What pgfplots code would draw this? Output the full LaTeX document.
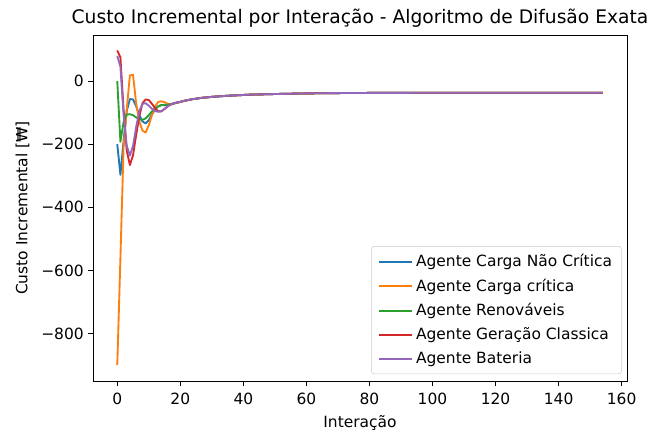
\documentclass[border=0pt]{standalone}
\usepackage{pgfplots}
\pgfplotsset{compat=1.18}
\usepackage{fontspec}
\setmainfont{DejaVu Sans}
\definecolor{c0}{HTML}{1F77B4}
\definecolor{c1}{HTML}{FF7F0E}
\definecolor{c2}{HTML}{2CA02C}
\definecolor{c3}{HTML}{D62728}
\definecolor{c4}{HTML}{9467BD}
\begin{document}
\begin{tikzpicture}[x=0.75pt,y=0.75pt]
\path[use as bounding box] (0,0) rectangle (658,434);
\begin{axis}[
  at={(93pt*0.75,53pt*0.75)}, anchor=south west,
  scale only axis, width=400.5pt, height=259.5pt,
  xmin=-7.7, xmax=161.7, ymin=-950, ymax=146,
  xtick={0,20,...,160},
  ytick={-800,-600,-400,-200,0},
  yticklabels={−800,−600,−400,−200,0},
  /pgf/number format/assume math mode=true,
  tick align=outside, xtick pos=bottom, ytick pos=left,
  major tick length=3.4pt,
  tick style={black, line width=0.6pt},
  axis line style={line width=0.6pt},
  ticklabel style={font=\fontsize{11.6}{13}\selectfont},
  xticklabel style={yshift=-2pt},
  label style={font=\fontsize{11.6}{13}\selectfont},
  title style={font=\fontsize{14}{16}\selectfont, yshift=-4pt},
  title={Custo Incremental por Interação - Algoritmo de Difusão Exata},
  xlabel={Interação}, ylabel={Custo Incremental [₩]},
  xlabel style={yshift=-1pt}, ylabel style={yshift=2pt},
  legend style={at={(0.99,0.02)}, anchor=south east, draw=black!20, rounded corners=2pt,
    font=\fontsize{11.6}{13}\selectfont, row sep=3.6pt, inner xsep=5pt, inner ysep=4pt},
  legend cell align=left,
  legend image code/.code={\draw[#1] (0pt,0pt) -- (25pt,0pt);},
]
\addplot[c0, line width=1.4pt, line join=round] coordinates {(0,-200) (1,-297) (2,-190) (3,-95) (4,-57) (5,-58) (6,-80) (7,-108) (8,-128) (9,-134) (10,-124) (11,-106) (12,-90) (13,-80) (14,-76) (15,-76) (16,-76) (17,-74) (18,-71) (19,-68) (20,-66)
 (21,-63) (22,-61) (23,-59) (24,-57) (25,-56) (26,-54) (28,-52) (30,-50) (32,-48.5) (35,-46.5) (38,-45) (42,-43) (46,-42) (50,-41) (55,-40) (60,-39) (70,-38) (80,-37.5) (100,-37) (154,-37)};
\addlegendentry{Agente Carga Não Crítica}
\addplot[c1, line width=1.4pt, line join=round] coordinates {(0,-900) (1,-560) (2,-210) (3,-90) (4,18) (5,20) (6,-72) (7,-128) (8,-157) (9,-163) (10,-140) (11,-108) (12,-80) (13,-66) (14,-64) (15,-67) (16,-72) (17,-74) (18,-71) (19,-68) (20,-66)
 (21,-63) (22,-61) (23,-59) (24,-57) (25,-56) (26,-54) (28,-52) (30,-50) (32,-48.5) (35,-46.5) (38,-45) (42,-43) (46,-42) (50,-41) (55,-40) (60,-39) (70,-38) (80,-37.5) (100,-37) (154,-37)};
\addlegendentry{Agente Carga crítica}
\addplot[c2, line width=1.4pt, line join=round] coordinates {(0,0) (1,-192) (2,-130) (3,-106) (4,-105) (5,-108) (6,-115) (7,-121) (8,-123) (9,-118) (10,-108) (11,-96) (12,-87) (13,-80) (14,-76) (15,-75) (16,-75) (17,-73) (18,-71) (19,-68) (20,-66)
 (21,-63) (22,-61) (23,-59) (24,-57) (25,-56) (26,-54) (28,-52) (30,-50) (32,-48.5) (35,-46.5) (38,-45) (42,-43) (46,-42) (50,-41) (55,-40) (60,-39) (70,-38) (80,-37.5) (100,-37) (154,-37)};
\addlegendentry{Agente Renováveis}
\addplot[c3, line width=1.4pt, line join=round] coordinates {(0,97) (1,75) (2,-90) (3,-220) (4,-266) (5,-235) (6,-170) (7,-110) (8,-70) (9,-58) (10,-60) (11,-72) (12,-86) (13,-96) (14,-96) (15,-88) (16,-80) (17,-74) (18,-70) (19,-68) (20,-66)
 (21,-63) (22,-61) (23,-59) (24,-57) (25,-56) (26,-54) (28,-52) (30,-50) (32,-48.5) (35,-46.5) (38,-45) (42,-43) (46,-42) (50,-41) (55,-40) (60,-39) (70,-38) (80,-37.5) (100,-37) (154,-37)};
\addlegendentry{Agente Geração Classica}
\addplot[c4, line width=1.4pt, line join=round] coordinates {(0,80) (1,45) (2,-105) (3,-205) (4,-236) (5,-205) (6,-145) (7,-95) (8,-72) (9,-70) (10,-78) (11,-88) (12,-95) (13,-97) (14,-95) (15,-88) (16,-80) (17,-74) (18,-70) (19,-68) (20,-66)
 (21,-63) (22,-61) (23,-59) (24,-57) (25,-56) (26,-54) (28,-52) (30,-50) (32,-48.5) (35,-46.5) (38,-45) (42,-43) (46,-42) (50,-41) (55,-40) (60,-39) (70,-38) (80,-37.5) (100,-37) (154,-37)};
\addlegendentry{Agente Bateria}
\end{axis}
\end{tikzpicture}
\end{document}
